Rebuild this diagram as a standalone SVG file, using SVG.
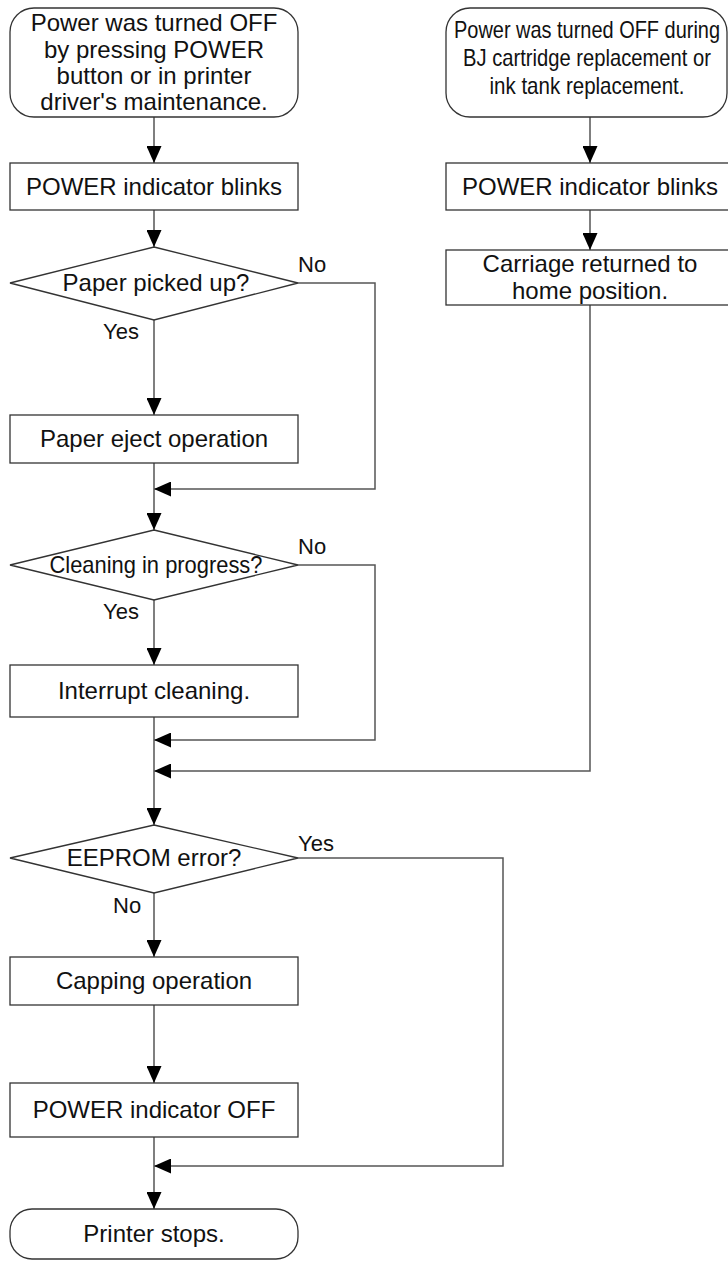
<svg xmlns="http://www.w3.org/2000/svg" width="728" height="1261" viewBox="0 0 728 1261">
<defs>
<style>
.shape{fill:#fff;stroke:#333;stroke-width:1.3}
.conn{fill:none;stroke:#555;stroke-width:1.5}
.t{font-family:"Liberation Sans",Arial,sans-serif;font-size:24px;fill:#111;text-anchor:middle}
.lbl{font-family:"Liberation Sans",Arial,sans-serif;font-size:22px;fill:#111}
</style>
<marker id="ah" markerUnits="userSpaceOnUse" markerWidth="17" markerHeight="15" refX="17" refY="7.5" orient="auto">
<path d="M0,0 L17,7.5 L0,15 Z" fill="#000"/>
</marker>
</defs>
<rect width="728" height="1261" fill="#fff"/>

<g id="connectors">
<line class="conn" x1="154" y1="117" x2="154" y2="163" marker-end="url(#ah)"/>
<line class="conn" x1="154" y1="210" x2="154" y2="247" marker-end="url(#ah)"/>
<line class="conn" x1="154" y1="320" x2="154" y2="415" marker-end="url(#ah)"/>
<polyline class="conn" points="298,283 375,283 375,489 154,489" marker-end="url(#ah)"/>
<line class="conn" x1="154" y1="463" x2="154" y2="530" marker-end="url(#ah)"/>
<line class="conn" x1="154" y1="600" x2="154" y2="665" marker-end="url(#ah)"/>
<polyline class="conn" points="298,565 375,565 375,740 154,740" marker-end="url(#ah)"/>
<polyline class="conn" points="590,305 590,771 154,771" marker-end="url(#ah)"/>
<line class="conn" x1="154" y1="717" x2="154" y2="825" marker-end="url(#ah)"/>
<line class="conn" x1="154" y1="893" x2="154" y2="957" marker-end="url(#ah)"/>
<polyline class="conn" points="298,858 503,858 503,1166 154,1166" marker-end="url(#ah)"/>
<line class="conn" x1="154" y1="1005" x2="154" y2="1083" marker-end="url(#ah)"/>
<line class="conn" x1="154" y1="1137" x2="154" y2="1209" marker-end="url(#ah)"/>
<line class="conn" x1="590" y1="117" x2="590" y2="163" marker-end="url(#ah)"/>
<line class="conn" x1="590" y1="210" x2="590" y2="250" marker-end="url(#ah)"/>
<text class="lbl" x="298" y="272">No</text>
<text class="lbl" x="103" y="339">Yes</text>
<text class="lbl" x="298" y="554">No</text>
<text class="lbl" x="103" y="619">Yes</text>
<text class="lbl" x="298" y="851">Yes</text>
<text class="lbl" x="113" y="913">No</text>
</g>

<g id="start1">
<rect class="shape" x="10" y="8" width="288" height="109" rx="24"/>
<text class="t" x="154" y="31">Power was turned OFF</text>
<text class="t" x="154" y="57.5">by pressing POWER</text>
<text class="t" x="154" y="84">button or in printer</text>
<text class="t" x="154" y="110">driver's maintenance.</text>
</g>
<g id="blink1">
<rect class="shape" x="10" y="163" width="288" height="47"/>
<text class="t" x="154" y="195">POWER indicator blinks</text>
</g>
<g id="dec-paper">
<polygon class="shape" points="154,247 298,283 154,320 10,283"/>
<text class="t" x="156" y="291">Paper picked up?</text>
</g>
<g id="eject">
<rect class="shape" x="10" y="415" width="288" height="48"/>
<text class="t" x="154" y="447">Paper eject operation</text>
</g>
<g id="dec-clean">
<polygon class="shape" points="154,530 298,565 154,600 10,565"/>
<text class="t" x="156" y="573" textLength="213" lengthAdjust="spacingAndGlyphs">Cleaning in progress?</text>
</g>
<g id="interrupt">
<rect class="shape" x="10" y="665" width="288" height="52"/>
<text class="t" x="154" y="699">Interrupt cleaning.</text>
</g>
<g id="dec-eeprom">
<polygon class="shape" points="154,825 298,858 154,893 10,858"/>
<text class="t" x="154" y="866">EEPROM error?</text>
</g>
<g id="capping">
<rect class="shape" x="10" y="957" width="288" height="48"/>
<text class="t" x="154" y="989">Capping operation</text>
</g>
<g id="power-off">
<rect class="shape" x="10" y="1083" width="288" height="54"/>
<text class="t" x="154" y="1118">POWER indicator OFF</text>
</g>
<g id="stop">
<rect class="shape" x="10" y="1209" width="288" height="50" rx="22"/>
<text class="t" x="154" y="1242">Printer stops.</text>
</g>

<g id="start2">
<rect class="shape" x="446" y="8" width="281" height="109" rx="24"/>
<text class="t" x="587" y="38" textLength="266" lengthAdjust="spacingAndGlyphs">Power was turned OFF during</text>
<text class="t" x="587" y="66" textLength="248" lengthAdjust="spacingAndGlyphs">BJ cartridge replacement or</text>
<text class="t" x="587" y="94" textLength="195" lengthAdjust="spacingAndGlyphs">ink tank replacement.</text>
</g>
<g id="blink2">
<rect class="shape" x="446" y="163" width="288" height="47"/>
<text class="t" x="590" y="195">POWER indicator blinks</text>
</g>
<g id="carriage">
<rect class="shape" x="446" y="250" width="288" height="55"/>
<text class="t" x="590" y="272">Carriage returned to</text>
<text class="t" x="590" y="299">home position.</text>
</g>
</svg>
